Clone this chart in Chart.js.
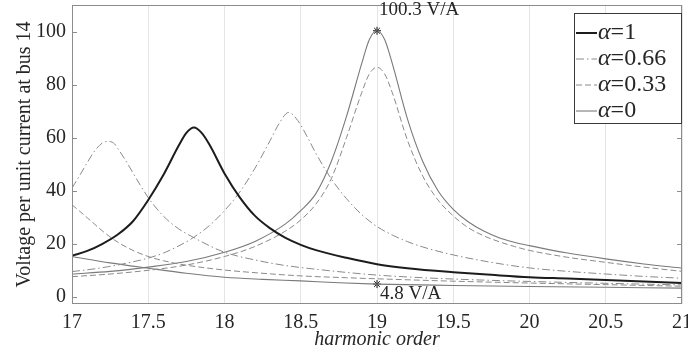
<!DOCTYPE html>
<html>
<head>
<meta charset="utf-8">
<script src="https://cdn.jsdelivr.net/npm/chart.js"></script>
<title>Voltage per unit current at bus 14</title>
<style>
  body { margin: 0; background: #fff; }
  #wrap { width: 688px; height: 361px; }
</style>
</head>
<body>
<div id="wrap"><canvas id="harmChart" width="688" height="361"></canvas></div>
<script>
// axis ticks
const xTicks = [17, 17.5, 18, 18.5, 19, 19.5, 20, 20.5, 21];
const yTicks = [0, 20, 40, 60, 80, 100];

// legend (alpha values)
const legendLabels = ['1', '0.66', '0.33', '0'];

// alpha = 1, resonance near 17.8
const orders1 = [17, 17.1, 17.2, 17.3, 17.4, 17.5, 17.6, 17.7, 17.75, 17.8, 17.85, 17.9, 18, 18.1, 18.2, 18.3, 18.4, 18.5, 18.6, 18.8, 19, 19.2, 19.5, 19.75, 20, 20.25, 20.5, 20.75, 21];
const volts1  = [15.5, 17.3, 20, 23.5, 28.5, 36.5, 46, 57, 61.8, 63.8, 61.8, 57.5, 46.5, 37.5, 30.5, 25.8, 22.2, 19.6, 17.6, 14.7, 12.3, 10.8, 9.3, 8.3, 7.4, 6.9, 6.35, 5.8, 5.2];

// alpha = 0.66, two curves (17.23 and 18.42)
const orders066a = [17, 17.05, 17.1, 17.15, 17.2, 17.24, 17.28, 17.3, 17.35, 17.4, 17.5, 17.6, 17.7, 17.8, 17.9, 18, 18.2, 18.4, 18.6, 18.8, 19, 19.3, 19.6, 20, 20.5, 21];
const volts066a  = [41, 45.7, 50.6, 55.1, 58, 58.6, 57.6, 55.9, 51.6, 46.7, 37.4, 30.4, 25.6, 22.3, 19.3, 16.8, 13.9, 11.8, 10.4, 9.2, 8.2, 7.2, 6.5, 5.8, 5.1, 4.5];
const orders066b = [17, 17.2, 17.4, 17.5, 17.6, 17.7, 17.8, 17.9, 18, 18.1, 18.2, 18.3, 18.36, 18.42, 18.48, 18.55, 18.6, 18.7, 18.8, 18.9, 19, 19.1, 19.2, 19.3, 19.5, 19.75, 20, 20.25, 20.5, 20.75, 21];
const volts066b  = [9.5, 11, 13.2, 14.6, 16.5, 19.2, 22.5, 26.8, 32.5, 39.5, 48.5, 59, 65.5, 69.5, 66.5, 59.5, 54, 44.5, 37, 31, 26.5, 23.3, 20.8, 18.8, 15.8, 13, 10.9, 9.6, 8.6, 7.7, 7];

// alpha = 0.33, two curves
const orders033a = [17, 17.05, 17.1, 17.15, 17.2, 17.3, 17.4, 17.5, 17.6, 17.7, 17.8, 18, 18.2, 18.5, 18.8, 19, 19.5, 20, 20.5, 21];
const volts033a  = [34.7, 32.3, 29.8, 27.3, 24.8, 20.6, 17.5, 15.2, 13.6, 12.4, 11.5, 10.1, 9.1, 7.9, 7.2, 6.8, 5.9, 5.2, 4.6, 4.0];
const orders033b = [17, 17.25, 17.5, 17.75, 18, 18.2, 18.4, 18.5, 18.6, 18.7, 18.8, 18.9, 18.95, 19, 19.05, 19.1, 19.2, 19.3, 19.4, 19.5, 19.6, 19.7, 19.8, 19.9, 20, 20.25, 20.5, 20.75, 21];
const volts033b  = [7.6, 8.6, 10, 12, 15.2, 19, 24.8, 29, 35, 44.5, 60, 77, 84, 86.5, 84, 77, 59, 45.5, 36.5, 30.5, 26, 23, 20.8, 19, 17.5, 14.9, 13, 11.2, 9.6];

// alpha = 0, two curves
const orders0a = [17, 17.25, 17.5, 17.75, 18, 18.25, 18.5, 18.75, 19, 19.5, 20, 20.5, 21];
const volts0a  = [15.2, 12.8, 10.8, 8.9, 7.4, 6.6, 6.0, 5.3, 4.8, 4.3, 3.9, 3.6, 3.3];
const orders0b = [17, 17.25, 17.5, 17.75, 18, 18.2, 18.4, 18.5, 18.6, 18.7, 18.8, 18.9, 18.95, 19, 19.05, 19.1, 19.2, 19.3, 19.4, 19.5, 19.6, 19.7, 19.8, 19.9, 20, 20.25, 20.5, 20.75, 21];
const volts0b  = [8.6, 9.6, 11.2, 13.3, 16.8, 20.9, 27.5, 32.5, 39, 51, 68, 88, 97, 100.3, 97, 88, 67, 51, 40, 33, 28.2, 24.8, 22.3, 20.6, 19.3, 16.5, 14.3, 12.4, 10.8];

// marked points
const markOrders = [19, 19];
const markVolts = [100.3, 4.8];
const markTexts = ['100.3 V/A', '4.8 V/A'];

const SERIF = "'Liberation Serif', 'Times New Roman', serif";
const TEXT = '#262626';

const styles = {
  '1':    { color: '#1c1c1c', width: 2,   dash: [] },
  '0.66': { color: '#8a8a8a', width: 1,   dash: [8, 3, 1.5, 3] },
  '0.33': { color: '#8a8a8a', width: 1,   dash: [6, 3] },
  '0':    { color: '#7a7a7a', width: 1.1, dash: [] }
};

function series(alpha, xs, ys) {
  const st = styles[alpha];
  return {
    label: alpha,
    data: xs.map((x, i) => ({ x: x, y: ys[i] })),
    borderColor: st.color,
    borderWidth: st.width,
    borderDash: st.dash,
    pointRadius: 0,
    fill: false,
    cubicInterpolationMode: 'monotone'
  };
}

// frame, inner ticks, legend box and value notes
const extras = {
  id: 'extras',
  afterDraw(chart) {
    const ctx = chart.ctx;
    const a = chart.chartArea;
    const ys = chart.scales.y, xs = chart.scales.x;
    ctx.save();

    // box
    ctx.strokeStyle = '#8c8c8c';
    ctx.lineWidth = 1;
    ctx.strokeRect(a.left + 0.5, a.top + 0.5, a.right - a.left - 1, a.bottom - a.top - 1);
    yTicks.forEach(v => {
      const y = Math.round(ys.getPixelForValue(v)) + 0.5;
      ctx.beginPath();
      ctx.moveTo(a.left, y); ctx.lineTo(a.left + 5, y);
      ctx.moveTo(a.right - 5, y); ctx.lineTo(a.right, y);
      ctx.stroke();
    });

    // notes next to the marked points
    ctx.fillStyle = TEXT;
    ctx.font = '19px ' + SERIF;
    ctx.textAlign = 'left';
    ctx.textBaseline = 'middle';
    markOrders.forEach((o, i) => {
      const px = xs.getPixelForValue(o);
      const py = ys.getPixelForValue(markVolts[i]);
      if (markVolts[i] > 50) ctx.fillText(markTexts[i], px + 2, py - 21);
      else ctx.fillText(markTexts[i], px + 3, py + 10);
    });

    // legend
    const bw = 107, bh = 110;
    const bx = a.right - bw - 1, by = a.top + 8;
    ctx.fillStyle = '#fff';
    ctx.fillRect(bx, by, bw, bh);
    ctx.strokeStyle = '#3a3a3a';
    ctx.strokeRect(bx + 0.5, by + 0.5, bw, bh);
    legendLabels.forEach((lab, i) => {
      const st = styles[lab];
      const y = by + 20 + i * 26;
      ctx.strokeStyle = st.color;
      ctx.lineWidth = st.width;
      ctx.setLineDash(st.dash);
      ctx.beginPath();
      ctx.moveTo(bx + 2, y); ctx.lineTo(bx + 23, y);
      ctx.stroke();
      ctx.setLineDash([]);
      ctx.fillStyle = TEXT;
      ctx.font = 'italic 24px ' + SERIF;
      ctx.fillText('\u03b1', bx + 24, y);
      const w = ctx.measureText('\u03b1').width;
      ctx.font = '24px ' + SERIF;
      ctx.fillText('=' + lab, bx + 24 + w, y);
    });
    ctx.restore();
  }
};

new Chart(document.getElementById('harmChart'), {
  type: 'line',
  data: {
    datasets: [
      series('1', orders1, volts1),
      series('0.66', orders066a, volts066a),
      series('0.66', orders066b, volts066b),
      series('0.33', orders033a, volts033a),
      series('0.33', orders033b, volts033b),
      series('0', orders0a, volts0a),
      series('0', orders0b, volts0b),
      {
        label: 'marks',
        data: markOrders.map((o, i) => ({ x: o, y: markVolts[i] })),
        showLine: false,
        pointStyle: 'star',
        pointRadius: 4,
        borderColor: '#111',
        borderWidth: 1
      }
    ]
  },
  options: {
    responsive: false,
    animation: false,
    layout: { padding: { top: 5, right: 6, left: 0, bottom: 0 } },
    plugins: { legend: { display: false }, tooltip: { enabled: false } },
    scales: {
      x: {
        type: 'linear',
        min: 17,
        max: 21,
        afterBuildTicks: s => { s.ticks = xTicks.map(v => ({ value: v })); },
        afterFit: s => { s.height = 57; s.paddingLeft = 0; s.paddingRight = 0; },
        grid: { color: '#e4e4e4', drawTicks: false },
        border: { display: false },
        ticks: {
          padding: 7, color: TEXT, font: { family: SERIF, size: 20 },
          callback: v => String(v)
        },
        title: {
          display: true,
          text: 'harmonic order',
          color: TEXT,
          font: { family: SERIF, size: 20, style: 'italic' },
          padding: { top: 0, bottom: 9 }
        }
      },
      y: {
        min: -2.7,
        max: 110,
        afterBuildTicks: s => { s.ticks = yTicks.map(v => ({ value: v })); },
        afterFit: s => { s.width = 72; s.paddingTop = 0; s.paddingBottom = 0; },
        grid: { display: false, drawTicks: false },
        border: { display: false },
        ticks: { padding: 6, color: TEXT, font: { family: SERIF, size: 20 } },
        title: {
          display: true,
          text: 'Voltage per unit current at bus 14',
          color: TEXT,
          font: { family: SERIF, size: 20 },
          padding: { top: 13, bottom: 0 }
        }
      }
    }
  },
  plugins: [extras]
});
</script>
</body>
</html>
